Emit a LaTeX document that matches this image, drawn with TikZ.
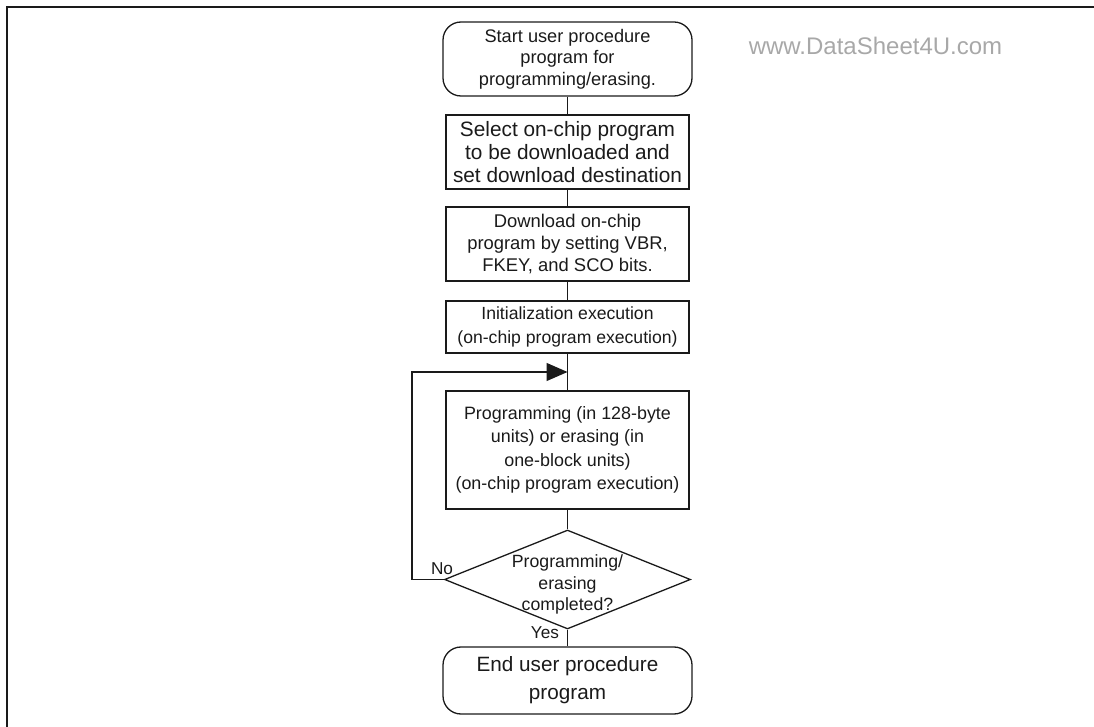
\documentclass[tikz,border=0pt]{standalone}
\usepackage{fontspec}
\setmainfont{Liberation Sans}
\usepackage{tikz}
\usetikzlibrary{arrows.meta,shapes.geometric}
\definecolor{fcInk}{HTML}{1A1A1A}
\definecolor{fcMark}{HTML}{A8A8A8}
\tikzset{
  % Rounded start / end box
  tbox/.style={rectangle,rounded corners=9pt,
    minimum width=124.5pt,inner sep=1pt,
    align=center,draw=fcInk,line width=0.65pt,text=fcInk},
  % Plain process box
  pbox/.style={rectangle,
    minimum width=121.5pt,inner sep=1pt,
    align=center,draw=fcInk,line width=0.65pt,text=fcInk},
  % Decision diamond
  dbox/.style={diamond,minimum width=123pt,minimum height=49.5pt,
    inner sep=0pt,draw=fcInk,line width=0.65pt},
  % Arrows
  conn/.style={draw=fcInk,line width=0.65pt},
  loopar/.style={-{Triangle[length=10.5pt,width=9pt]},
    draw=fcInk,line width=0.65pt},
  lbl/.style={font=\fontsize{8.6pt}{10pt}\selectfont,text=fcInk},
}

\begin{document}
\begin{tikzpicture}[x=0.5pt,y=-0.5pt]
  \useasboundingbox (0,0) rectangle (1094,727);
  \draw[line width=1pt,fcInk] (1094,6.7) -- (6.7,6.7) -- (6.7,727);

  \node[font=\fontsize{12pt}{14pt}\selectfont,text=fcMark] (mark)
    at (875.5,46) {www.DataSheet4U.com};

  % Flow steps
  \node[tbox,minimum height=37pt,
    font=\fontsize{9.1pt}{10.85pt}\selectfont] (start) at (567.5,59)
    {Start user procedure\\program for\\programming/erasing.};
  \node[pbox,minimum height=37pt,
    font=\fontsize{10.4pt}{11.65pt}\selectfont] (sel) at (567.5,152)
    {Select on-chip program\\to be downloaded and\\set download destination};
  \node[pbox,minimum height=37pt,
    font=\fontsize{9.2pt}{11pt}\selectfont] (dl) at (567.5,244)
    {Download on-chip\\program by setting VBR,\\FKEY, and SCO bits.};
  \node[pbox,minimum height=26pt,
    font=\fontsize{8.8pt}{12pt}\selectfont] (init) at (567.5,327)
    {Initialization execution\\(on-chip program execution)};
  \node[pbox,minimum height=59pt,
    font=\fontsize{8.95pt}{11.65pt}\selectfont] (prog) at (567.5,450)
    {Programming (in 128-byte\\units) or erasing (in\\one-block units)\\(on-chip program execution)};

  % Decision
  \node[dbox] (dec) at (567.5,579.5) {};
  \node[align=center,text=fcInk,inner sep=0pt,
    font=\fontsize{8.85pt}{10.75pt}\selectfont] (dectxt)
    at ([yshift=-2.5pt]dec.center) {Programming/\\erasing\\completed?};

  \node[tbox,minimum height=33.5pt,
    font=\fontsize{10.35pt}{14pt}\selectfont] (finish) at (567.5,680.5)
    {End user procedure\\program};

  \node[lbl] (no) at (442,569) {No};
  \node[lbl] (yes) at (545,633) {Yes};

  % Connectors
  \draw[conn] (start) -- (sel);
  \draw[conn] (sel) -- (dl);
  \draw[conn] (dl) -- (init);
  \draw[conn] (init) -- (prog);
  \draw[conn] (prog) -- (dec);
  \draw[conn] (dec) -- (finish);

  % Loop back
  \coordinate (mrg) at (567.5,372);
  \coordinate (lpc) at (412,372);
  \draw[loopar] (dec.west) -- (dec.west -| lpc) -- (lpc) -- (mrg);
\end{tikzpicture}
\end{document}
